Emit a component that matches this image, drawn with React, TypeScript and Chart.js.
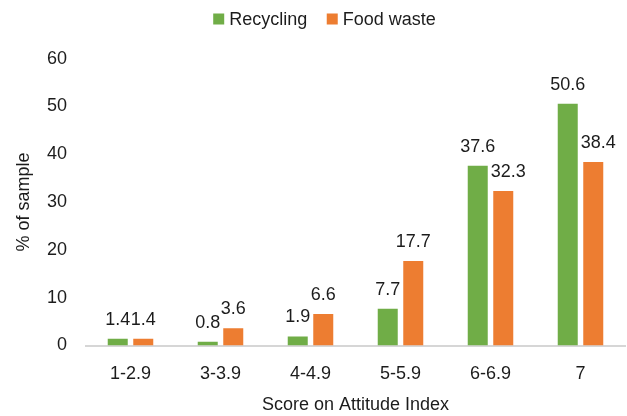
import React, { useEffect, useRef } from "react";
import { Chart, registerables } from "chart.js";

Chart.register(...registerables);

const categories = ["1-2.9", "3-3.9", "4-4.9", "5-5.9", "6-6.9", "7"];
const recycling = [1.4, 0.8, 1.9, 7.7, 37.6, 50.6];
const foodWaste = [1.4, 3.6, 6.6, 17.7, 32.3, 38.4];
const seriesNames = ["Recycling", "Food waste"];
const yTicks = [0, 10, 20, 30, 40, 50, 60];

const GREEN = "#70AD47";
const ORANGE = "#ED7D31";
const TEXT = "#1c1c1c";
const FONT = "'Liberation Sans', Arial, sans-serif";

// Writes each bar's value just above it; a label that would sit on top of
// the taller neighbouring bar is nudged sideways so it stays readable.
const valueLabels = {
  id: "valueLabels",
  afterDatasetsDraw(chart: any) {
    const { ctx } = chart;
    ctx.save();
    ctx.font = `18px ${FONT}`;
    ctx.fillStyle = TEXT;
    ctx.textAlign = "center";
    ctx.textBaseline = "alphabetic";
    const metas = chart.data.datasets.map((_: any, i: number) => chart.getDatasetMeta(i));
    chart.data.datasets.forEach((ds: any, i: number) => {
      metas[i].data.forEach((bar: any, j: number) => {
        const v = ds.data[j] as number;
        const text = v.toFixed(1);
        const w = ctx.measureText(text).width;
        const baseY = bar.y - 14;
        let x = bar.x;
        if (i > 0) {
          const prev = metas[i - 1].data[j];
          const prevRight = prev.x + prev.width / 2;
          if (baseY > prev.y && x - w / 2 < prevRight + 3) {
            x = prevRight + 3 + w / 2;
          }
        }
        ctx.fillText(text, x, baseY);
      });
    });
    ctx.restore();
  },
};

// Compact legend row: small square swatch followed by the series name.
const topLegend = {
  id: "topLegend",
  afterDraw(chart: any) {
    const { ctx } = chart;
    const box = 11;
    const gap = 5;
    const itemGap = 19.5;
    ctx.save();
    ctx.font = `18px ${FONT}`;
    const items = chart.data.datasets.map((ds: any) => ({
      label: ds.label as string,
      color: ds.backgroundColor as string,
      w: ctx.measureText(ds.label).width,
    }));
    const total =
      items.reduce((s: number, it: any) => s + box + gap + it.w, 0) +
      itemGap * (items.length - 1);
    let x = chart.width / 2 + 11 - total / 2;
    const baseY = 25;
    items.forEach((it: any) => {
      ctx.fillStyle = it.color;
      ctx.fillRect(x, baseY - 11.5, box, box);
      ctx.fillStyle = TEXT;
      ctx.textAlign = "left";
      ctx.textBaseline = "alphabetic";
      ctx.fillText(it.label, x + box + gap, baseY);
      x += box + gap + it.w + itemGap;
    });
    ctx.restore();
  },
};

export default function App() {
  const canvasRef = useRef<HTMLCanvasElement | null>(null);

  useEffect(() => {
    document.body.style.margin = "0";
    const canvas = canvasRef.current;
    if (!canvas) return;
    Chart.defaults.font.family = FONT;
    Chart.defaults.color = TEXT;

    const chart = new Chart(canvas, {
      type: "bar",
      data: {
        labels: categories,
        datasets: [
          {
            label: seriesNames[0],
            data: recycling,
            backgroundColor: GREEN,
            categoryPercentage: 0.567,
            barPercentage: 0.784,
          },
          {
            label: seriesNames[1],
            data: foodWaste,
            backgroundColor: ORANGE,
            categoryPercentage: 0.567,
            barPercentage: 0.784,
          },
        ],
      },
      options: {
        animation: false,
        responsive: true,
        maintainAspectRatio: false,
        layout: { padding: { top: 58.7, right: 1.5, left: 0, bottom: 0 } },
        plugins: {
          legend: { display: false },
          tooltip: { enabled: false },
        },
        scales: {
          x: {
            grid: { display: false, drawTicks: false },
            border: { display: true, color: "#d6d6d6", width: 2 },
            ticks: { font: { size: 18 }, color: TEXT, padding: 17.6 },
            title: {
              display: true,
              text: "Score on Attitude Index",
              font: { size: 18 },
              color: TEXT,
              padding: { top: 0, bottom: 0 },
            },
            afterFit(scale: any) {
              scale.height = 70.5;
            },
          },
          y: {
            min: 0,
            max: 60,
            grid: { display: false, drawTicks: false },
            border: { display: false },
            afterBuildTicks(scale: any) {
              scale.ticks = yTicks.map((v) => ({ value: v }));
            },
            ticks: { font: { size: 18 }, color: TEXT, padding: 18.5 },
            title: {
              display: true,
              text: "% of sample",
              font: { size: 18 },
              color: TEXT,
              padding: { top: 12.8, bottom: 0 },
            },
            afterFit(scale: any) {
              scale.width = 85.5;
            },
          },
        },
      },
      plugins: [valueLabels, topLegend],
    });

    return () => chart.destroy();
  }, []);

  return (
    <div style={{ position: "fixed", left: 0, top: 0, width: 627, height: 416 }}>
      <canvas ref={canvasRef} />
    </div>
  );
}
